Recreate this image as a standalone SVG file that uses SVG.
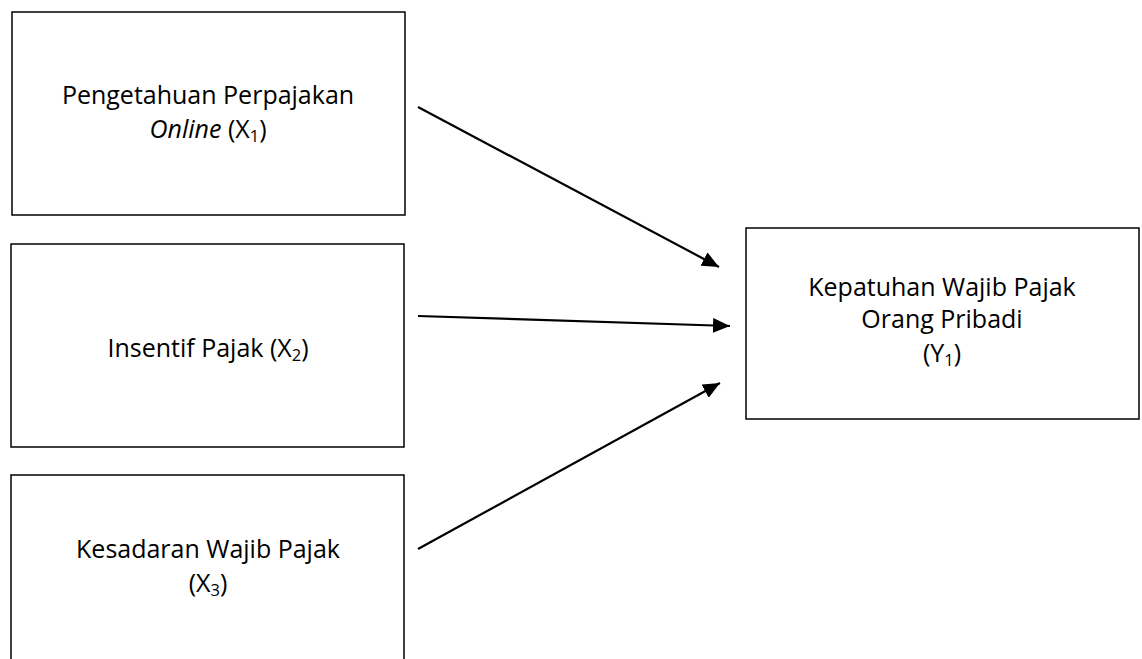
<svg xmlns="http://www.w3.org/2000/svg" width="1142" height="659" viewBox="0 0 1142 659">
<style>
.box{fill:#fff;stroke:#000;stroke-width:1.5}
.t{font-family:"Open Sans","Noto Sans","Liberation Sans",sans-serif;font-size:25px;fill:#000;text-anchor:middle}
.sub{font-size:16.5px}
.edge{stroke:#000;stroke-width:2.2;fill:none;marker-end:url(#ah)}
</style>
<defs>
<marker id="ah" markerUnits="userSpaceOnUse" markerWidth="18" markerHeight="15" refX="17" refY="7.5" orient="auto" viewBox="0 0 18 15">
<path d="M0,0 L17,7.5 L0,15 z" fill="#000"/>
</marker>
</defs>
<rect width="1142" height="659" fill="#fff"/>
<g id="node-x1">
<rect class="box" x="12" y="12" width="393" height="203"/>
<text class="t" x="208" y="104">Pengetahuan Perpajakan</text>
<text class="t" x="208" y="138"><tspan font-style="italic">Online</tspan> (X<tspan class="sub" dy="4">1</tspan><tspan dy="-4">)</tspan></text>
</g>
<g id="node-x2">
<rect class="box" x="11" y="244" width="393" height="203"/>
<text class="t" x="208" y="357">Insentif Pajak (X<tspan class="sub" dy="4">2</tspan><tspan dy="-4">)</tspan></text>
</g>
<g id="node-x3">
<rect class="box" x="11" y="475" width="393" height="220"/>
<text class="t" x="208" y="558">Kesadaran Wajib Pajak</text>
<text class="t" x="208" y="592">(X<tspan class="sub" dy="4">3</tspan><tspan dy="-4">)</tspan></text>
</g>
<g id="node-y1">
<rect class="box" x="746" y="228" width="393" height="191"/>
<text class="t" x="942" y="296">Kepatuhan Wajib Pajak</text>
<text class="t" x="942" y="328">Orang Pribadi</text>
<text class="t" x="942" y="362">(Y<tspan class="sub" dy="4">1</tspan><tspan dy="-4">)</tspan></text>
</g>
<g id="connectors">
<line class="edge" x1="418" y1="107" x2="719" y2="267"/>
<line class="edge" x1="418" y1="316" x2="730" y2="326"/>
<line class="edge" x1="418" y1="549" x2="720" y2="383"/>
</g>
</svg>
